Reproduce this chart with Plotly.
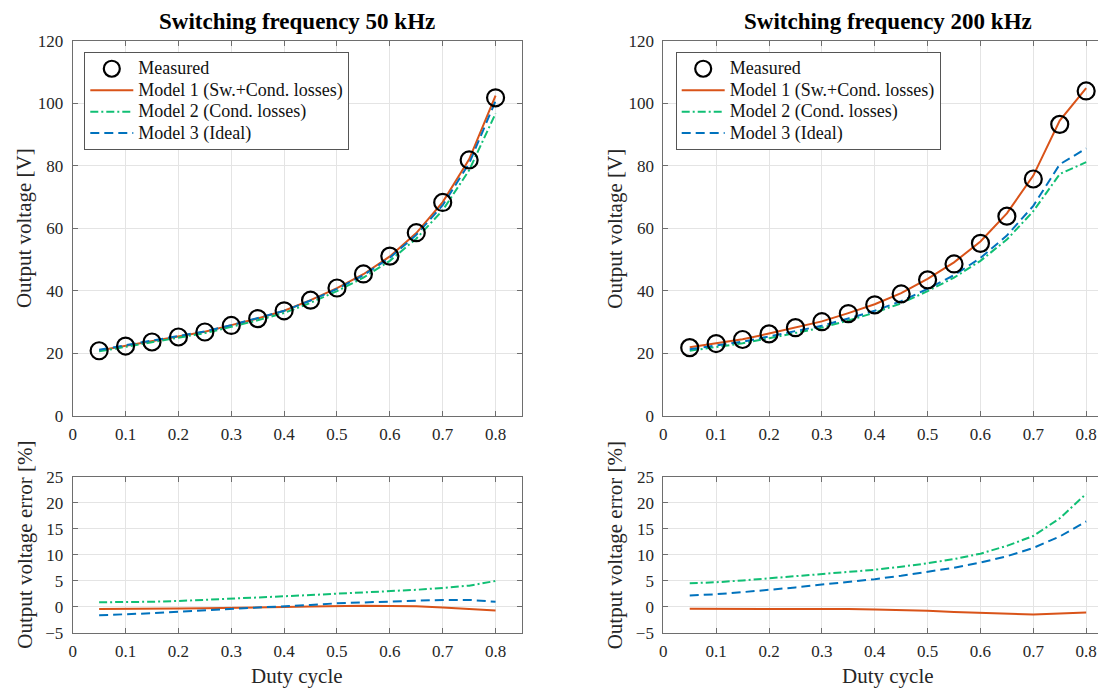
import plotly.graph_objects as go

# ---------------- data ----------------
duty = [0.05, 0.10, 0.15, 0.20, 0.25, 0.30, 0.35, 0.40,
        0.45, 0.50, 0.55, 0.60, 0.65, 0.70, 0.75, 0.80]

# 50 kHz
meas_50 = [20.8, 22.3, 23.6, 25.2, 26.8, 28.9, 31.1, 33.6,
           37.0, 40.9, 45.4, 51.1, 58.6, 68.3, 81.9, 101.8]
m1_50 = [20.9, 22.4, 23.7, 25.3, 26.9, 29.0, 31.15, 33.6,
         37.0, 40.85, 45.3, 51.0, 58.5, 68.4, 82.1, 102.5]
m2_50 = [20.6, 22.1, 23.4, 24.9, 26.45, 28.45, 30.55, 32.9,
         36.15, 39.9, 44.2, 49.6, 56.7, 65.8, 78.6, 96.8]
m3_50 = [21.1, 22.6, 23.9, 25.4, 27.0, 29.0, 31.2, 33.6,
         36.9, 40.6, 45.0, 50.6, 57.9, 67.4, 80.8, 100.8]
e1_50 = [-0.45, -0.45, -0.4, -0.35, -0.3, -0.25, -0.15, -0.05,
         0.05, 0.15, 0.2, 0.15, 0.1, -0.15, -0.4, -0.75]
e2_50 = [0.85, 0.85, 0.95, 1.1, 1.3, 1.5, 1.75, 2.0,
         2.25, 2.5, 2.7, 2.95, 3.25, 3.6, 4.05, 4.95]
e3_50 = [-1.65, -1.5, -1.25, -0.95, -0.7, -0.5, -0.2, 0.05,
         0.35, 0.65, 0.85, 1.0, 1.15, 1.3, 1.3, 0.95]

# 200 kHz
meas_200 = [21.8, 23.1, 24.4, 26.2, 28.2, 30.1, 32.7, 35.5,
            39.0, 43.5, 48.6, 55.2, 63.9, 75.8, 93.3, 104.0]
m1_200 = [21.9, 23.2, 24.5, 26.3, 28.3, 30.2, 32.85, 35.7,
          39.25, 43.85, 49.1, 55.8, 64.8, 76.9, 94.5, 104.9]
m2_200 = [20.8, 22.0, 23.2, 24.8, 26.6, 28.2, 30.5, 33.0,
          36.0, 39.9, 44.2, 49.6, 56.4, 65.5, 77.4, 81.2]
m3_200 = [21.3, 22.55, 23.7, 25.4, 27.2, 28.8, 31.15, 33.6,
          36.7, 40.6, 45.0, 50.5, 57.7, 67.2, 80.5, 85.6]
e1_200 = [-0.4, -0.4, -0.4, -0.4, -0.4, -0.4, -0.45, -0.55,
          -0.65, -0.8, -1.0, -1.15, -1.35, -1.5, -1.3, -1.1]
e2_200 = [4.5, 4.7, 5.05, 5.45, 5.8, 6.2, 6.6, 7.1,
          7.7, 8.35, 9.15, 10.2, 11.7, 13.6, 17.0, 21.7]
e3_200 = [2.15, 2.4, 2.8, 3.2, 3.7, 4.25, 4.75, 5.3,
          5.95, 6.7, 7.5, 8.5, 9.7, 11.3, 13.5, 16.4]

x_ticks = [0, 0.1, 0.2, 0.3, 0.4, 0.5, 0.6, 0.7, 0.8]
x_ticklabels = ["0", "0.1", "0.2", "0.3", "0.4", "0.5", "0.6", "0.7", "0.8"]
v_ticks = [0, 20, 40, 60, 80, 100, 120]
e_ticks = [-5, 0, 5, 10, 15, 20, 25]

names = ["Measured", "Model 1 (Sw.+Cond. losses)",
         "Model 2 (Cond. losses)", "Model 3 (Ideal)"]
titles = ["Switching frequency 50 kHz", "Switching frequency 200 kHz"]

# ---------------- style ----------------
FONT = "Liberation Serif"
C_ORANGE = "#D95319"
C_GREEN = "#10BF74"
C_BLUE = "#0072BD"
AXC = "#6e6e6e"
GRIDC = "#e4e4e4"
VW, VH = 1106, 689          # browser viewport
OFF = 8                     # default page body margin
W, H = VW - OFF, VH - OFF   # figure size so it fills the viewport
LEG_TEXT_PX = 18


def leg_name(s):
    return '<span style="font-size:%.1fpx">%s</span>' % (LEG_TEXT_PX, s)


fig = go.Figure()


def add_panel(xa, ya, meas, m1, m2, m3, e1, e2, e3, xa_e, ya_e, legend):
    fig.add_trace(go.Scatter(x=duty, y=m1, mode="lines", name=leg_name(names[1]),
                             line=dict(color=C_ORANGE, width=2),
                             xaxis=xa, yaxis=ya, legend=legend, legendrank=2))
    fig.add_trace(go.Scatter(x=duty, y=m2, mode="lines", name=leg_name(names[2]),
                             line=dict(color=C_GREEN, width=2, dash="8px,3px,2px,3px"),
                             xaxis=xa, yaxis=ya, legend=legend, legendrank=3))
    fig.add_trace(go.Scatter(x=duty, y=m3, mode="lines", name=leg_name(names[3]),
                             line=dict(color=C_BLUE, width=2, dash="9px,5px"),
                             xaxis=xa, yaxis=ya, legend=legend, legendrank=4))
    fig.add_trace(go.Scatter(x=duty, y=meas, mode="markers", name=leg_name(names[0]),
                             marker=dict(symbol="circle-open", size=17, color="black",
                                         line=dict(width=2.2, color="black")),
                             xaxis=xa, yaxis=ya, legend=legend, legendrank=1))
    fig.add_trace(go.Scatter(x=duty, y=e1, mode="lines", showlegend=False,
                             line=dict(color=C_ORANGE, width=2),
                             xaxis=xa_e, yaxis=ya_e))
    fig.add_trace(go.Scatter(x=duty, y=e2, mode="lines", showlegend=False,
                             line=dict(color=C_GREEN, width=2, dash="8px,3px,2px,3px"),
                             xaxis=xa_e, yaxis=ya_e))
    fig.add_trace(go.Scatter(x=duty, y=e3, mode="lines", showlegend=False,
                             line=dict(color=C_BLUE, width=2, dash="9px,5px"),
                             xaxis=xa_e, yaxis=ya_e))


add_panel("x", "y", meas_50, m1_50, m2_50, m3_50, e1_50, e2_50, e3_50, "x3", "y3", "legend")
add_panel("x2", "y2", meas_200, m1_200, m2_200, m3_200, e1_200, e2_200, e3_200, "x4", "y4", "legend2")

# pixel geometry (viewport pixels)
L_x0, L_x1 = 72.7, 522.0
R_x0 = 663.3
px_per_unit = (L_x1 - L_x0) / 0.85
R_range_max = (VW - R_x0) / px_per_unit
top_y0, top_y1 = 41.0, 415.7
bot_y0, bot_y1 = 476.7, 632.7


def fx(p):
    return (p - OFF) / W


def fy(p):
    return 1 - (p - OFF) / H


tickfont = dict(family=FONT, size=17, color="#262626")


def xax(domain, anchor, rng):
    return dict(domain=domain, anchor=anchor, range=rng, tickvals=x_ticks,
                ticktext=x_ticklabels, showline=True, linecolor=AXC, linewidth=1,
                mirror="ticks", ticks="inside", ticklen=5, tickcolor=AXC,
                showgrid=True, gridcolor=GRIDC, gridwidth=1, zeroline=False,
                tickfont=tickfont, fixedrange=True, automargin=False,
                ticklabelstandoff=3)


def yax(domain, anchor, rng, tv):
    return dict(domain=domain, anchor=anchor, range=rng, tickvals=tv,
                showline=True, linecolor=AXC, linewidth=1,
                mirror="ticks", ticks="inside", ticklen=5, tickcolor=AXC,
                showgrid=True, gridcolor=GRIDC, gridwidth=1, zeroline=False,
                tickfont=tickfont, fixedrange=True, automargin=False,
                ticklabelstandoff=5)


dl = [fx(L_x0), fx(L_x1)]
dr = [fx(R_x0), 1.0]
dtop = [fy(top_y1), fy(top_y0)]
dbot = [fy(bot_y1), fy(bot_y0)]

legend_style = dict(font=dict(family=FONT, size=14.2, color="#111111"),
                    bgcolor="white", bordercolor="#555555", borderwidth=1,
                    itemwidth=43, tracegroupgap=0, xanchor="left", yanchor="top",
                    traceorder="normal")

fig.update_layout(
    width=W, height=H,
    margin=dict(l=0, r=0, t=0, b=0, autoexpand=False),
    paper_bgcolor="white", plot_bgcolor="white",
    font=dict(family=FONT, color="#262626"),
    xaxis=xax(dl, "y", [0, 0.85]),
    yaxis=yax(dtop, "x", [0, 120], v_ticks),
    xaxis2=xax(dr, "y2", [0, R_range_max]),
    yaxis2=yax(dtop, "x2", [0, 120], v_ticks),
    xaxis3=xax(dl, "y3", [0, 0.85]),
    yaxis3=yax(dbot, "x3", [-5, 25], e_ticks),
    xaxis4=xax(dr, "y4", [0, R_range_max]),
    yaxis4=yax(dbot, "x4", [-5, 25], e_ticks),
    legend=dict(x=fx(84.3), y=fy(52), **legend_style),
    legend2=dict(x=fx(675.7), y=fy(52), **legend_style),
    showlegend=True,
)

title_font = dict(family=FONT, size=23, color="black")
label_font = dict(family=FONT, size=21, color="#262626")
anns = []
L_center = (L_x0 + L_x1) / 2
R_center = R_x0 + (L_x1 - L_x0) / 2
for cx, t in [(L_center, titles[0]), (R_center, titles[1])]:
    anns.append(dict(x=fx(cx), y=fy(21), xref="paper", yref="paper", text="<b>%s</b>" % t,
                     showarrow=False, font=title_font, xanchor="center", yanchor="middle"))
for x0, cx in [(L_x0, L_center), (R_x0, R_center)]:
    anns.append(dict(x=fx(x0 - 48), y=fy((top_y0 + top_y1) / 2), xref="paper", yref="paper",
                     text="Output voltage [V]", textangle=-90, showarrow=False,
                     font=label_font, xanchor="center", yanchor="middle"))
    anns.append(dict(x=fx(x0 - 48), y=fy(545), xref="paper", yref="paper",
                     text="Output voltage error [%]", textangle=-90, showarrow=False,
                     font=label_font, xanchor="center", yanchor="middle"))
    anns.append(dict(x=fx(cx), y=fy(676), xref="paper", yref="paper",
                     text="Duty cycle", showarrow=False,
                     font=label_font, xanchor="center", yanchor="middle"))
fig.update_layout(annotations=anns)

fig.write_html("out.html")
